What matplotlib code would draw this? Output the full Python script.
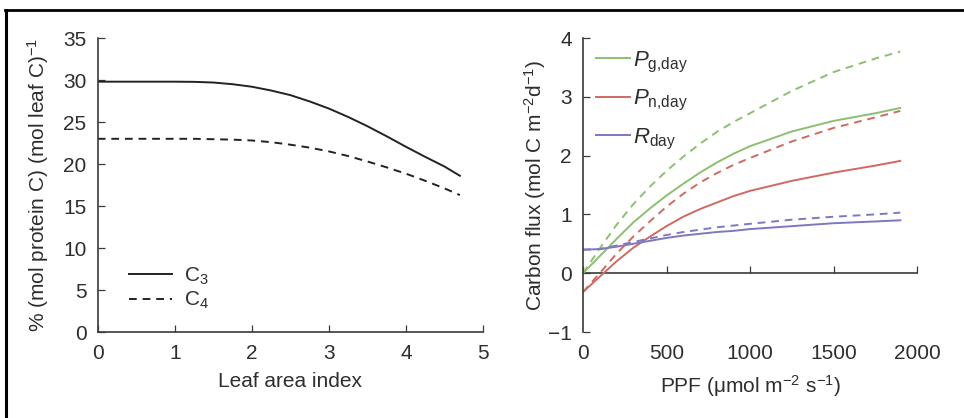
import matplotlib
matplotlib.use("Agg")
import matplotlib.pyplot as plt
from matplotlib.lines import Line2D

plt.rcParams["font.family"] = ["Liberation Sans", "DejaVu Sans"]
plt.rcParams["mathtext.fontset"] = "custom"
plt.rcParams["mathtext.rm"] = "Liberation Sans"
plt.rcParams["mathtext.it"] = "Liberation Sans:italic"
plt.rcParams["mathtext.bf"] = "Liberation Sans:bold"

# left panel: protein fraction vs leaf area index
lai = [0, 0.5, 1, 1.25, 1.5, 1.75, 2, 2.25, 2.5, 2.75, 3, 3.25, 3.5, 3.75, 4, 4.25, 4.5, 4.7]
c3_protein = [29.8, 29.8, 29.8, 29.78, 29.7, 29.5, 29.2, 28.75, 28.2, 27.45, 26.6, 25.6,
              24.5, 23.3, 22.05, 20.85, 19.7, 18.6]
c4_protein = [23.0, 23.0, 23.0, 23.0, 22.95, 22.9, 22.8, 22.6, 22.3, 21.95, 21.5, 20.95,
              20.3, 19.6, 18.85, 18.0, 17.1, 16.3]

# right panel: carbon flux vs PPF (solid = C3, dashed = C4)
ppf = [0, 100, 200, 300, 400, 500, 600, 700, 800, 900, 1000, 1250, 1500, 1750, 1900]
pg_solid = [0, 0.29, 0.58, 0.86, 1.1, 1.32, 1.52, 1.71, 1.88, 2.03, 2.16, 2.41, 2.59, 2.72, 2.81]
pg_dashed = [0, 0.42, 0.82, 1.17, 1.47, 1.74, 1.98, 2.2, 2.4, 2.57, 2.72, 3.1, 3.42, 3.65, 3.77]
pn_solid = [-0.32, -0.06, 0.2, 0.43, 0.62, 0.8, 0.96, 1.09, 1.2, 1.31, 1.4, 1.57, 1.71, 1.83, 1.91]
pn_dashed = [-0.32, 0.0, 0.33, 0.62, 0.88, 1.13, 1.35, 1.54, 1.7, 1.84, 1.96, 2.24, 2.47, 2.65, 2.76]
r_solid = [0.4, 0.41, 0.45, 0.5, 0.55, 0.6, 0.64, 0.67, 0.7, 0.72, 0.75, 0.8, 0.85, 0.88, 0.9]
r_dashed = [0.4, 0.41, 0.47, 0.53, 0.59, 0.65, 0.7, 0.74, 0.78, 0.81, 0.84, 0.91, 0.96, 1.0, 1.03]

GREEN = "#8cbf72"
RED = "#cf6a63"
PURPLE = "#7d78c0"
TXT = "#2e2e2e"
AX = "#3a3a3a"
FS = 15

fig = plt.figure(figsize=(9.64, 4.18), dpi=100)

# frame lines of the original figure box
fig.add_artist(Line2D([5 / 964, 1], [1 - 10 / 418] * 2, color="black", lw=2, transform=fig.transFigure))
fig.add_artist(Line2D([6 / 964] * 2, [0, 1 - 10 / 418], color="black", lw=2.2, transform=fig.transFigure))


def style(ax):
    for s in ("top", "right"):
        ax.spines[s].set_visible(False)
    for s in ("left", "bottom"):
        ax.spines[s].set_linewidth(1.2)
        ax.spines[s].set_color(AX)
    ax.tick_params(direction="in", length=5, width=0.9, color=AX, labelsize=FS, labelcolor=TXT)
    ax.tick_params(axis="y", pad=8)
    ax.tick_params(axis="x", pad=8.5)


# ---- left panel
ax1 = fig.add_axes([97.7 / 964, 86 / 418, 385.3 / 964, 294 / 418])
style(ax1)
ax1.plot(lai, c3_protein, color="#222222", lw=1.4, label="C$_3$")
ax1.plot(lai, c4_protein, color="#222222", lw=1.4, ls=(0, (4, 3)), label="C$_4$")
ax1.set_xlim(0, 5)
ax1.set_ylim(0, 35)
ax1.set_xticks(range(6))
ax1.set_yticks(range(0, 36, 5))
ax1.set_xlabel("Leaf area index", fontsize=FS, color=TXT, va="top")
ax1.xaxis.set_label_coords(0.5, -0.137)
ax1.set_ylabel("% (mol protein C) (mol leaf C)$^{-1}$", fontsize=FS, color=TXT)
ax1.yaxis.set_label_coords(-0.122, 0.5)
leg1 = ax1.legend(loc="lower left", bbox_to_anchor=(0.08, 0.07), frameon=False,
                  fontsize=FS, handlelength=2.1, handletextpad=0.55, labelspacing=0.15,
                  borderpad=0, borderaxespad=0)
for t in leg1.get_texts():
    t.set_color(TXT)

# ---- right panel
ax2 = fig.add_axes([583 / 964, 86 / 418, 334 / 964, 294 / 418])
style(ax2)
ax2.spines["bottom"].set_visible(False)
ax2.plot(ppf, pg_solid, color=GREEN, lw=1.4, label=r"$P_{\mathrm{g{,}day}}$")
ax2.plot(ppf, pn_solid, color=RED, lw=1.4, label=r"$P_{\mathrm{n{,}day}}$")
ax2.plot(ppf, r_solid, color=PURPLE, lw=1.4, label=r"$R_{\mathrm{day}}$")
ax2.plot(ppf, pg_dashed, color=GREEN, lw=1.4, ls=(0, (4, 3)))
ax2.plot(ppf, pn_dashed, color=RED, lw=1.4, ls=(0, (4, 3)))
ax2.plot(ppf, r_dashed, color=PURPLE, lw=1.4, ls=(0, (4, 3)))
ax2.set_xlim(0, 2000)
ax2.set_ylim(-1, 4)
ax2.set_xticks(range(0, 2001, 500))
ax2.set_yticks(range(-1, 5))
ax2.tick_params(axis="x", length=0)

# zero line with the x ticks, labels stay at the bottom
zero_ax = ax2.secondary_xaxis(0.2)
zero_ax.spines["bottom"].set_linewidth(1.2)
zero_ax.spines["bottom"].set_color(AX)
zero_ax.set_xticks(range(0, 2001, 500))
zero_ax.tick_params(direction="in", length=5, width=0.9, color=AX, labelbottom=False)

ax2.set_xlabel(r"PPF ($\mathrm{\mu}$mol m$^{-2}$ s$^{-1}$)", fontsize=FS, color=TXT, va="top")
ax2.xaxis.set_label_coords(0.5, -0.14)
ax2.set_ylabel(r"Carbon flux (mol C m$^{-2}$d$^{-1}$)", fontsize=FS, color=TXT)
ax2.yaxis.set_label_coords(-0.105, 0.5)
leg2 = ax2.legend(loc="upper left", bbox_to_anchor=(0.04, 0.96), frameon=False,
                  fontsize=FS + 1, handlelength=1.5, handletextpad=0.15, labelspacing=0.6,
                  borderpad=0, borderaxespad=0)
for t in leg2.get_texts():
    t.set_color(TXT)

fig.savefig("out.png", dpi=100)
